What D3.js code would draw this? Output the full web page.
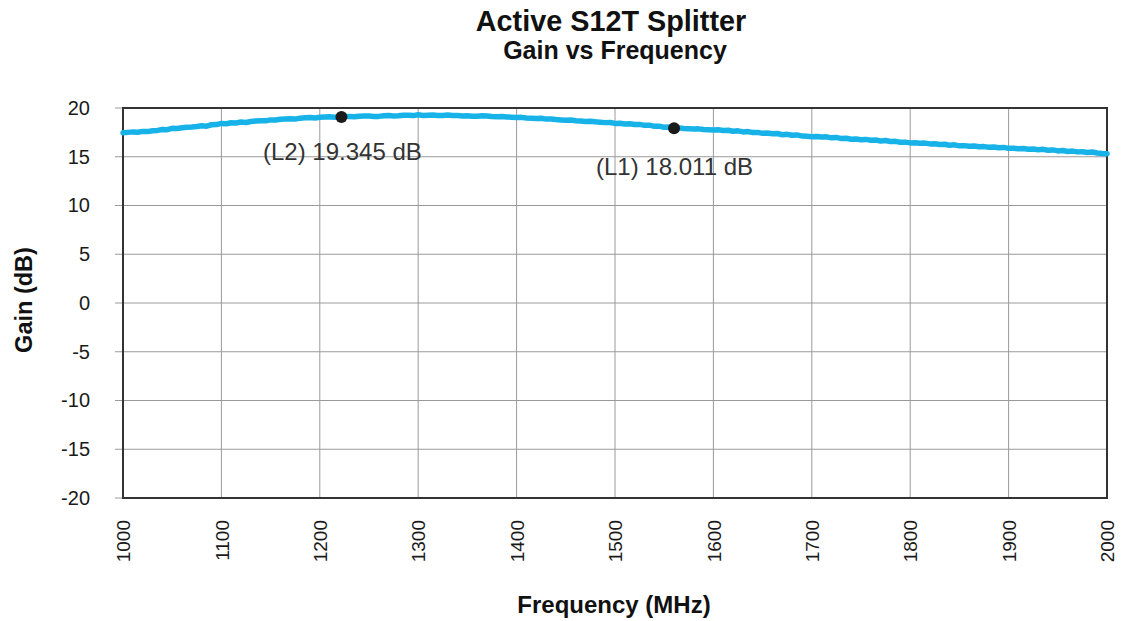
<!DOCTYPE html>
<html>
<head>
<meta charset="utf-8">
<script src="https://cdn.jsdelivr.net/npm/d3@7"></script>
<style>
  html, body { margin: 0; padding: 0; background: #fff; }
  svg { display: block; font-family: "Liberation Sans", Arial, sans-serif; }
</style>
</head>
<body>
<svg id="chart" width="1126" height="621"></svg>
<script>
// ---- data ----
const titleLines = ["Active S12T Splitter", "Gain vs Frequency"];
const xLabel = "Frequency (MHz)";
const yLabel = "Gain (dB)";
const xTicks = [1000, 1100, 1200, 1300, 1400, 1500, 1600, 1700, 1800, 1900, 2000];
const yTicks = [20, 15, 10, 5, 0, -5, -10, -15, -20];
const freqStart = 1000, freqStep = 5;
const gain = [
  17.46, 17.50, 17.55, 17.52, 17.60, 17.58, 17.66, 17.70, 17.80, 17.78,
  17.92, 17.90, 17.98, 18.02, 18.05, 18.10, 18.18, 18.14, 18.28, 18.30,
  18.42, 18.38, 18.48, 18.46, 18.56, 18.52, 18.62, 18.66, 18.70, 18.68,
  18.78, 18.76, 18.84, 18.88, 18.90, 18.86, 18.96, 19.00, 19.02, 18.98,
  19.06, 19.08, 19.10, 19.06, 19.10, 19.12, 19.14, 19.10, 19.16, 19.18,
  19.18, 19.14, 19.14, 19.20, 19.22, 19.18, 19.20, 19.26, 19.25, 19.22,
  19.30, 19.24, 19.26, 19.28, 19.24, 19.22, 19.28, 19.24, 19.22, 19.18,
  19.20, 19.16, 19.16, 19.20, 19.18, 19.12, 19.10, 19.12, 19.08, 19.06,
  19.02, 19.04, 18.98, 18.96, 18.92, 18.94, 18.86, 18.88, 18.82, 18.78,
  18.74, 18.76, 18.70, 18.66, 18.62, 18.64, 18.58, 18.54, 18.50, 18.52,
  18.42, 18.44, 18.36, 18.38, 18.30, 18.32, 18.22, 18.24, 18.12, 18.14,
  18.02, 18.04, 17.94, 17.96, 17.90, 17.88, 17.84, 17.86, 17.80, 17.78,
  17.74, 17.76, 17.70, 17.72, 17.62, 17.66, 17.55, 17.58, 17.48, 17.50,
  17.40, 17.44, 17.36, 17.38, 17.26, 17.30, 17.20, 17.24, 17.12, 17.10,
  17.06, 17.08, 17.02, 17.04, 16.94, 16.98, 16.86, 16.90, 16.80, 16.82,
  16.74, 16.78, 16.70, 16.72, 16.62, 16.66, 16.56, 16.58, 16.48, 16.50,
  16.42, 16.44, 16.38, 16.40, 16.32, 16.34, 16.26, 16.28, 16.18, 16.22,
  16.12, 16.14, 16.08, 16.10, 16.02, 16.04, 15.98, 16.00, 15.92, 15.96,
  15.86, 15.88, 15.82, 15.84, 15.78, 15.80, 15.72, 15.76, 15.66, 15.70,
  15.60, 15.64, 15.54, 15.58, 15.50, 15.52, 15.44, 15.48, 15.38, 15.34,
  15.32
];
const markerFreq = [1222, 1560];
const markerGain = [19.08, 17.92];
const markerText = ["(L2) 19.345 dB", "(L1) 18.011 dB"];

// ---- layout ----
const W = 1126, H = 621;
const m = { left: 123, right: 19, top: 108, bottom: 123 };
const svg = d3.select("#chart");
const x = d3.scaleLinear().domain([1000, 2000]).range([m.left, W - m.right]);
const y = d3.scaleLinear().domain([-20, 20]).range([H - m.bottom, m.top]);

// grid
const grid = svg.append("g");
grid.selectAll("line.gx").data(xTicks).join("line")
  .attr("x1", d => x(d)).attr("x2", d => x(d))
  .attr("y1", y(20)).attr("y2", y(-20))
  .attr("stroke", "#9a9a9a").attr("stroke-width", 1);
grid.selectAll("line.gy").data(yTicks).join("line")
  .attr("x1", x(1000) - 8).attr("x2", x(2000))
  .attr("y1", d => y(d)).attr("y2", d => y(d))
  .attr("stroke", "#9a9a9a").attr("stroke-width", 1);

// axes labels via d3 axes
const yAxis = svg.append("g").attr("transform", `translate(${x(1000) - 8},0)`)
  .call(d3.axisLeft(y).tickValues(yTicks).tickSize(0).tickPadding(25).tickFormat(d => String(d)));
yAxis.select(".domain").remove();
yAxis.selectAll("text").attr("font-size", 20).attr("fill", "#1a1a1a")
  .attr("font-family", "Liberation Sans, Arial, sans-serif");

const xAxis = svg.append("g").attr("transform", `translate(0,${y(-20)})`)
  .call(d3.axisBottom(x).tickValues(xTicks).tickSize(0).tickFormat(d => String(d)));
xAxis.select(".domain").remove();
xAxis.selectAll("text")
  .attr("font-size", 19).attr("fill", "#1a1a1a")
  .attr("font-family", "Liberation Sans, Arial, sans-serif")
  .attr("transform", "rotate(-90)")
  .attr("text-anchor", "end")
  .attr("x", -22).attr("y", 0).attr("dy", "0.35em");

// border
svg.append("rect")
  .attr("x", x(1000)).attr("y", y(20))
  .attr("width", x(2000) - x(1000)).attr("height", y(-20) - y(20))
  .attr("fill", "none").attr("stroke", "#333").attr("stroke-width", 2);

// data line
const pts = gain.map((g, i) => [freqStart + i * freqStep, g]);
svg.append("path").datum(pts)
  .attr("fill", "none").attr("stroke", "#17b3e8").attr("stroke-width", 5.5)
  .attr("stroke-linejoin", "round").attr("stroke-linecap", "round")
  .attr("d", d3.line().x(d => x(d[0])).y(d => y(d[1])));

// markers
svg.selectAll("circle.mk").data(markerFreq).join("circle")
  .attr("cx", d => x(d)).attr("cy", (d, i) => y(markerGain[i]))
  .attr("r", 6).attr("fill", "#1a1a1a");
const labelPos = [[263, 160], [596, 175]];
svg.selectAll("text.mk").data(markerText).join("text")
  .attr("x", (d, i) => labelPos[i][0]).attr("y", (d, i) => labelPos[i][1])
  .attr("font-size", 24).attr("fill", "#333").text(d => d);

// titles
svg.append("text").attr("x", 611).attr("y", 31).attr("text-anchor", "middle")
  .attr("font-size", 28.8).attr("font-weight", "bold").attr("fill", "#111").text(titleLines[0]);
svg.append("text").attr("x", 615).attr("y", 59).attr("text-anchor", "middle")
  .attr("font-size", 25).attr("font-weight", "bold").attr("fill", "#111").text(titleLines[1]);

svg.append("text").attr("x", 614).attr("y", 613).attr("text-anchor", "middle")
  .attr("font-size", 24).attr("font-weight", "bold").attr("fill", "#111").text(xLabel);
svg.append("text").attr("transform", "translate(32,300) rotate(-90)").attr("text-anchor", "middle")
  .attr("font-size", 23.5).attr("font-weight", "bold").attr("fill", "#111").text(yLabel);
</script>
</body>
</html>
